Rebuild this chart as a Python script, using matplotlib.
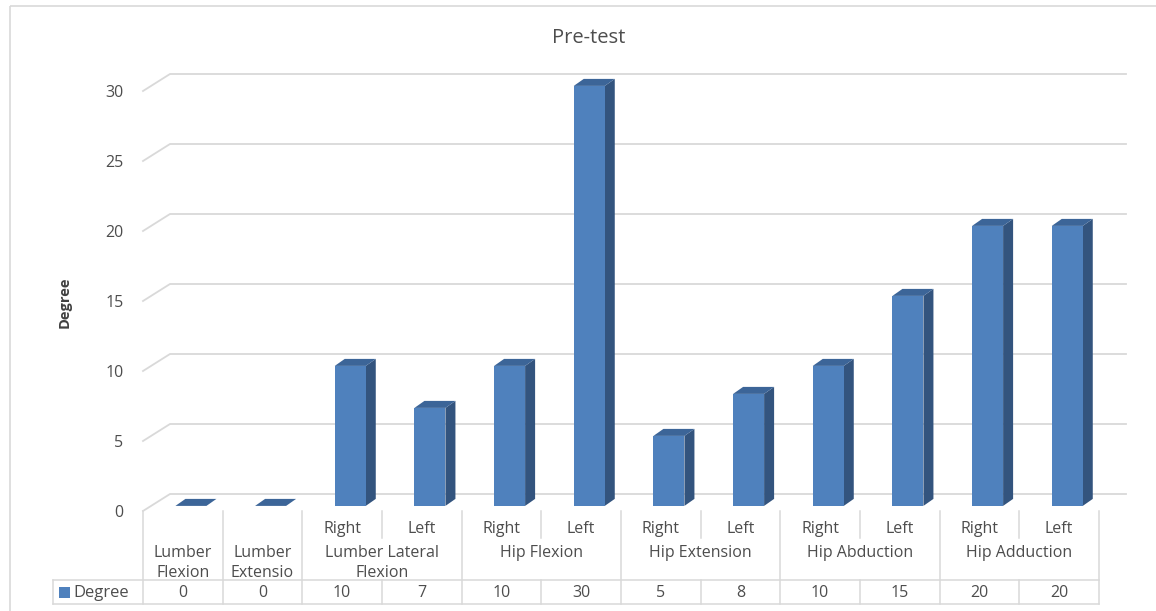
import matplotlib
matplotlib.use("Agg")
import matplotlib.pyplot as plt
from matplotlib.patches import Polygon, Rectangle

plt.rcParams["font.family"] = ["Open Sans", "DejaVu Sans"]

# data
groups = ["Lumber\nFlexion", "Lumber\nExtensio", "Lumber Lateral\nFlexion", "Hip Flexion",
          "Hip Extension", "Hip Abduction", "Hip Adduction"]
group_sizes = [1, 1, 2, 2, 2, 2, 2]
sides = ["", "", "Right", "Left", "Right", "Left", "Right", "Left",
         "Right", "Left", "Right", "Left"]
values = [0, 0, 10, 7, 10, 30, 5, 8, 10, 15, 20, 20]
series_name = "Degree"
yticks = [0, 5, 10, 15, 20, 25, 30]

W, H = 1156, 611
txt = "#4d4d4d"
grid_c = "#d9d9d9"
front_c = "#4F81BD"
side_c = "#33547E"
top_c = "#3C6598"
fs = 11.5

fig = plt.figure(figsize=(W / 100, H / 100), dpi=100)

# outer chart frame
frame = fig.add_axes([0, 0, 1, 1])
frame.set_xlim(0, W)
frame.set_ylim(H, 0)
frame.axis("off")
frame.add_patch(Rectangle((10, 6), W + 10, H + 10, fill=False, ec="#d9d9d9", lw=1.2))

# plot area: 79.67 px per category, 14 px per unit
px_cat = (1099 - 143) / 12
px_val = 14.0
ax = fig.add_axes([143 / W, 1 - 511 / H, (1130 - 143) / W, (511 - 60) / H])
ax.set_xlim(-0.5, -0.5 + (1130 - 143) / px_cat)
ax.set_ylim(0, (511 - 60) / px_val)
for s in ax.spines.values():
    s.set_visible(False)
ax.set_xticks([])
ax.set_yticks(yticks)
ax.tick_params(axis="y", length=0, pad=14, labelsize=fs, labelcolor=txt)
ax.patch.set_alpha(0)

# depth vector (back wall offset) in data units
Dx, Dy = 27 / px_cat, 17 / px_val
n = len(values)
for v in yticks:
    ax.plot([-0.5, -0.5 + Dx, n - 0.5 + Dx], [v, v + Dy, v + Dy],
            color=grid_c, lw=1.3, clip_on=False, zorder=1)

# 3d-looking columns
w = 31 / px_cat
bx, by = 0.3 * Dx, 0.3 * Dy
ddx, ddy = 10 / px_cat, 7 / px_val
for i, v in enumerate(values):
    x0 = i - w / 2 + bx
    ax.add_patch(Polygon([(x0 + w, by), (x0 + w + ddx, by + ddy),
                          (x0 + w + ddx, by + v + ddy), (x0 + w, by + v)],
                         closed=True, fc=side_c, ec="none", zorder=3))
    ax.add_patch(Polygon([(x0, by + v), (x0 + ddx, by + v + ddy),
                          (x0 + w + ddx, by + v + ddy), (x0 + w, by + v)],
                         closed=True, fc=top_c, ec="none", zorder=3))
    if v > 0:
        ax.add_patch(Rectangle((x0, by), w, v, fc=front_c, ec="none", zorder=4))

fig.text(589 / W, 1 - 38 / H, "Pre-test", ha="center", va="center", fontsize=14.5, color=txt)
fig.text(65 / W, 1 - 302 / H, "Degree", rotation=90, ha="center", va="center",
         fontsize=10.5, color="#404040", fontweight="bold")

# data table below the plot
tb = fig.add_axes([143 / W, 1 - 604 / H, (1099 - 143) / W, (604 - 511) / H])
tb.set_xlim(-0.5, n - 0.5)
tb.set_ylim(604, 511)
tb.axis("off")
lc = dict(color=grid_c, lw=1.1, clip_on=False)
leg_left = -0.5 - (143 - 53) / px_cat
tb.plot([leg_left, n - 0.5], [580, 580], **lc)
tb.plot([leg_left, n - 0.5], [604, 604], **lc)
tb.plot([leg_left, leg_left], [580, 604], **lc)

start = 0
bounds = [-0.5]
for g, size in zip(groups, group_sizes):
    center = start + (size - 1) / 2
    for k, line in enumerate(g.split("\n")):
        tb.text(center, 553 + 20 * k, line, ha="center", va="center", fontsize=fs, color=txt)
    start += size
    bounds.append(start - 0.5)
for b in bounds:
    tb.plot([b, b], [511, 604], **lc)
for i, s in enumerate(sides):
    if s:
        tb.text(i, 529, s, ha="center", va="center", fontsize=fs, color=txt)
    if i > 0 and (i - 0.5) not in bounds:
        tb.plot([i - 0.5, i - 0.5], [511, 538], **lc)
        tb.plot([i - 0.5, i - 0.5], [580, 604], **lc)
for i, v in enumerate(values):
    tb.text(i, 593, str(v), ha="center", va="center", fontsize=fs, color=txt)

# legend key cell
tb.add_patch(Rectangle((leg_left + 6 / px_cat, 587), 11 / px_cat, 11, fc=front_c, ec="none", clip_on=False))
tb.text(leg_left + 20 / px_cat, 593, series_name, ha="left", va="center", fontsize=12, color=txt)

fig.savefig("out.png", dpi=100)
